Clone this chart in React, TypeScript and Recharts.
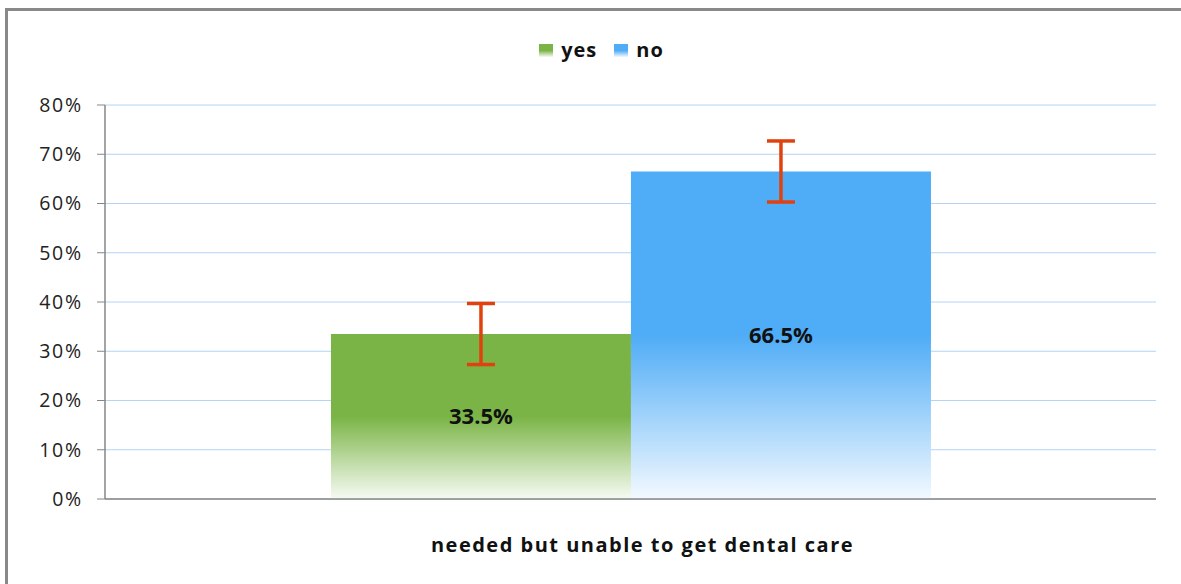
import React from "react";
import {
  BarChart,
  Bar,
  XAxis,
  YAxis,
  CartesianGrid,
  Legend,
  ErrorBar,
  LabelList,
} from "recharts";

const categories = ["needed but unable to get dental care"];
const seriesNames = ["yes", "no"];
const yesValues = [33.5];
const noValues = [66.5];
const yesErrors = [6.2];
const noErrors = [6.2];
const yTicks = [0, 10, 20, 30, 40, 50, 60, 70, 80];

const data = categories.map((c, i) => ({
  name: c,
  yes: yesValues[i],
  no: noValues[i],
  yesErr: yesErrors[i],
  noErr: noErrors[i],
}));

const FONT = "'Open Sans', sans-serif";

const XTick = (props: any) => {
  const { x, y, payload } = props;
  return (
    <text
      x={x + 12}
      y={y + 45}
      textAnchor="middle"
      fontFamily={FONT}
      fontWeight={700}
      fontSize={20}
      letterSpacing={1.5}
      fill="#111"
    >
      {payload.value}
    </text>
  );
};

const LegendContent = (props: any) => {
  const payload = [...(props.payload || [])].sort(
    (a: any, b: any) => seriesNames.indexOf(a.value) - seriesNames.indexOf(b.value)
  );
  return (
    <div style={{ display: "flex", justifyContent: "center", fontFamily: FONT, paddingLeft: 22 }}>
      {payload.map((p: any, i: number) => (
        <div key={p.value} style={{ display: "flex", alignItems: "center", marginLeft: i === 0 ? 0 : 17 }}>
          <svg width={14} height={13} style={{ marginRight: 8 }}>
            <rect width={14} height={13} fill={p.value === "yes" ? "url(#gYesL)" : "url(#gNoL)"} />
          </svg>
          <span style={{ fontWeight: 700, fontSize: 20, color: "#111", lineHeight: "20px", letterSpacing: 1 }}>
            {p.value}
          </span>
        </div>
      ))}
    </div>
  );
};

export default function App() {
  return (
    <div style={{ position: "absolute", left: 0, top: 0, width: 1181, height: 584, background: "#fff" }}>
      <svg
        width={1181}
        height={584}
        style={{ position: "absolute", left: 0, top: 0 }}
      >
        <path d="M6.5 584 V9.5 H1181" fill="none" stroke="#898989" strokeWidth={3} />
      </svg>
      <div style={{ position: "absolute", left: 0, top: 0 }}>
        <BarChart
          width={1181}
          height={584}
          data={data}
          margin={{ top: 105, right: 25, bottom: 25, left: 10 }}
          barCategoryGap="21.5%"
          barGap={0}
          accessibilityLayer={false}
        >
          <defs>
            <linearGradient id="gYes" x1="0" y1="0" x2="0" y2="1">
              <stop offset="0" stopColor="#7AB446" />
              <stop offset="0.5" stopColor="#7AB446" />
              <stop offset="1" stopColor="#F7FBF4" />
            </linearGradient>
            <linearGradient id="gNo" x1="0" y1="0" x2="0" y2="1">
              <stop offset="0" stopColor="#4FACF6" />
              <stop offset="0.5" stopColor="#4FACF6" />
              <stop offset="1" stopColor="#F3F9FF" />
            </linearGradient>
            <linearGradient id="gYesL" x1="0" y1="0" x2="0" y2="1">
              <stop offset="0" stopColor="#7AB446" />
              <stop offset="0.5" stopColor="#7AB446" />
              <stop offset="1" stopColor="#F7FBF4" />
            </linearGradient>
            <linearGradient id="gNoL" x1="0" y1="0" x2="0" y2="1">
              <stop offset="0" stopColor="#4FACF6" />
              <stop offset="0.5" stopColor="#4FACF6" />
              <stop offset="1" stopColor="#F3F9FF" />
            </linearGradient>
          </defs>
          <CartesianGrid vertical={false} stroke="#B3D4F5" strokeWidth={1} />
          <XAxis
            dataKey="name"
            height={60}
            axisLine={{ stroke: "#868686", strokeWidth: 1.5 }}
            tickLine={false}
            tick={<XTick />}
            interval={0}
          />
          <YAxis
            width={95}
            domain={[0, 80]}
            ticks={yTicks}
            interval={0}
            tickFormatter={(v: number) => `${v}%`}
            axisLine={{ stroke: "#868686", strokeWidth: 1.5 }}
            tickLine={{ stroke: "#868686" }}
            tickSize={8}
            tickMargin={14}
            tick={{ fontFamily: FONT, fontSize: 19.5, fill: "#222", letterSpacing: 1.8 }}
          />
          <Legend
            verticalAlign="middle"
            align="center"
            layout="horizontal"
            wrapperStyle={{ top: 40, left: 0, width: 1181 }}
            content={<LegendContent />}
          />
          <Bar dataKey="yes" name="yes" fill="url(#gYes)" isAnimationActive={false}>
            <ErrorBar dataKey="yesErr" width={14} strokeWidth={3.5} stroke="#E0420F" direction="y" />
            <LabelList
              dataKey="yes"
              position="center"
              formatter={(v: any) => `${Number(v).toFixed(1)}%`}
              style={{ fontFamily: FONT, fontWeight: 700, fontSize: 22, fill: "#111" }}
            />
          </Bar>
          <Bar dataKey="no" name="no" fill="url(#gNo)" isAnimationActive={false}>
            <ErrorBar dataKey="noErr" width={14} strokeWidth={3.5} stroke="#E0420F" direction="y" />
            <LabelList
              dataKey="no"
              position="center"
              formatter={(v: any) => `${Number(v).toFixed(1)}%`}
              style={{ fontFamily: FONT, fontWeight: 700, fontSize: 22, fill: "#111" }}
            />
          </Bar>
        </BarChart>
      </div>
    </div>
  );
}
